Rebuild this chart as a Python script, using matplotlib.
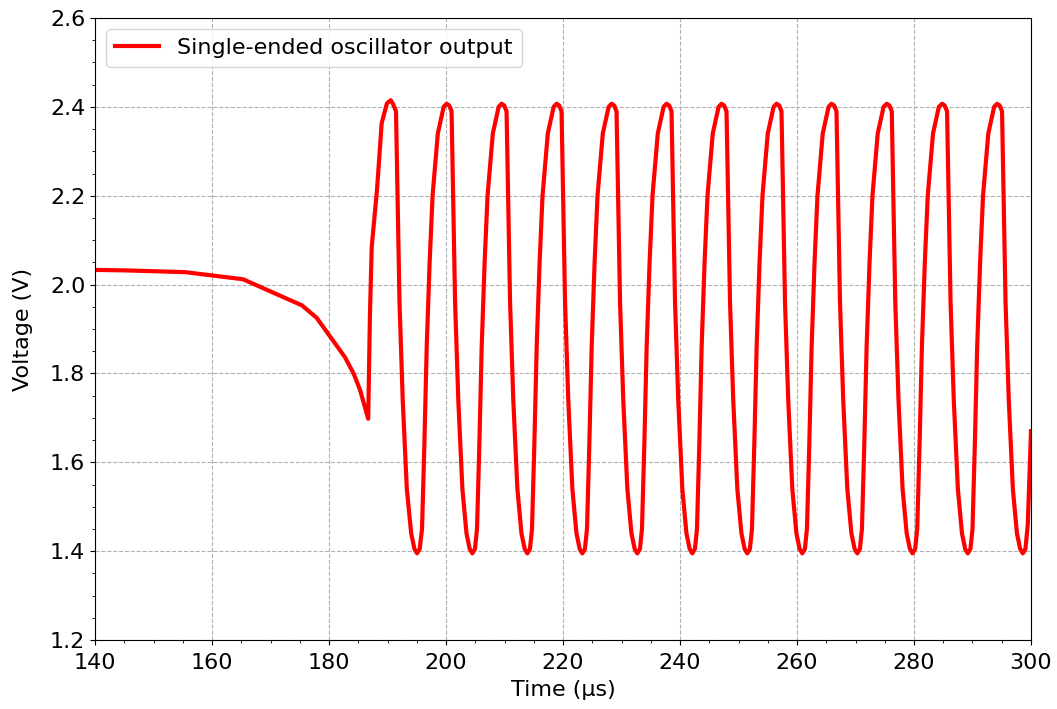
import matplotlib
matplotlib.use("Agg")
import matplotlib.pyplot as plt
from matplotlib.ticker import MultipleLocator

# startup: slow droop before the oscillator kicks in (us, V)
t_start = [140.0, 145.0, 155.4, 165.3, 175.4, 177.9, 182.7, 184.2, 185.3, 186.7,
           187.0, 187.3, 188.2, 189.0, 189.9]
v_start = [2.033, 2.032, 2.028, 2.012, 1.953, 1.925, 1.837, 1.800, 1.763, 1.698,
           1.935, 2.085, 2.213, 2.363, 2.408]

# steady oscillation
t_osc = [
    190.55, 191.0, 191.45, 191.75, 192.05, 192.6, 193.3, 194.05, 194.6, 195.05, 195.5, 195.9, 196.3, 196.7, 197.2, 197.7, 198.6, 199.6,
    200.1, 200.55, 200.95, 201.25, 201.55, 202.1, 202.8, 203.5, 204.05, 204.5, 204.95, 205.3, 205.7, 206.1, 206.6, 207.1, 208.0, 209.0,
    209.5, 209.95, 210.35, 210.65, 210.95, 211.5, 212.2, 212.9, 213.45, 213.9, 214.35, 214.7, 215.1, 215.5, 216.0, 216.5, 217.4, 218.4,
    218.9, 219.35, 219.75, 220.05, 220.35, 220.9, 221.6, 222.3, 222.85, 223.3, 223.75, 224.1, 224.5, 224.9, 225.4, 225.9, 226.8, 227.8,
    228.3, 228.75, 229.15, 229.45, 229.75, 230.3, 231.0, 231.7, 232.25, 232.7, 233.15, 233.5, 233.9, 234.3, 234.8, 235.3, 236.2, 237.2,
    237.7, 238.15, 238.55, 238.85, 239.15, 239.7, 240.4, 241.1, 241.65, 242.1, 242.55, 242.9, 243.3, 243.7, 244.2, 244.7, 245.6, 246.6,
    247.1, 247.55, 247.95, 248.25, 248.55, 249.1, 249.8, 250.5, 251.05, 251.5, 251.95, 252.3, 252.7, 253.1, 253.6, 254.1, 255.0, 256.0,
    256.5, 256.95, 257.35, 257.65, 257.95, 258.5, 259.2, 259.9, 260.45, 260.9, 261.35, 261.7, 262.1, 262.5, 263.0, 263.5, 264.4, 265.4,
    265.9, 266.35, 266.75, 267.05, 267.35, 267.9, 268.6, 269.3, 269.85, 270.3, 270.75, 271.1, 271.5, 271.9, 272.4, 272.9, 273.8, 274.8,
    275.35, 275.8, 276.2, 276.5, 276.8, 277.35, 278.05, 278.75, 279.3, 279.75, 280.2, 280.55, 280.95, 281.35, 281.85, 282.35, 283.25, 284.25,
    284.8, 285.25, 285.65, 285.95, 286.25, 286.8, 287.5, 288.2, 288.75, 289.2, 289.65, 290.0, 290.4, 290.8, 291.3, 291.8, 292.7, 293.7,
    294.2, 294.65, 295.05, 295.35, 295.65, 296.2, 296.9, 297.6, 298.15, 298.6, 299.05, 299.45, 300.0,
]
v_osc = [
    2.415, 2.405, 2.39, 2.17, 1.96, 1.74, 1.54, 1.44, 1.405, 1.395, 1.405, 1.45, 1.64, 1.86, 2.05, 2.20, 2.34, 2.40,
    2.407, 2.403, 2.39, 2.17, 1.96, 1.74, 1.54, 1.44, 1.405, 1.395, 1.405, 1.45, 1.64, 1.86, 2.05, 2.20, 2.34, 2.40,
    2.407, 2.403, 2.39, 2.17, 1.96, 1.74, 1.54, 1.44, 1.405, 1.395, 1.405, 1.45, 1.64, 1.86, 2.05, 2.20, 2.34, 2.40,
    2.407, 2.403, 2.39, 2.17, 1.96, 1.74, 1.54, 1.44, 1.405, 1.395, 1.405, 1.45, 1.64, 1.86, 2.05, 2.20, 2.34, 2.40,
    2.407, 2.403, 2.39, 2.17, 1.96, 1.74, 1.54, 1.44, 1.405, 1.395, 1.405, 1.45, 1.64, 1.86, 2.05, 2.20, 2.34, 2.40,
    2.407, 2.403, 2.39, 2.17, 1.96, 1.74, 1.54, 1.44, 1.405, 1.395, 1.405, 1.45, 1.64, 1.86, 2.05, 2.20, 2.34, 2.40,
    2.407, 2.403, 2.39, 2.17, 1.96, 1.74, 1.54, 1.44, 1.405, 1.395, 1.405, 1.45, 1.64, 1.86, 2.05, 2.20, 2.34, 2.40,
    2.407, 2.403, 2.39, 2.17, 1.96, 1.74, 1.54, 1.44, 1.405, 1.395, 1.405, 1.45, 1.64, 1.86, 2.05, 2.20, 2.34, 2.40,
    2.407, 2.403, 2.39, 2.17, 1.96, 1.74, 1.54, 1.44, 1.405, 1.395, 1.405, 1.45, 1.64, 1.86, 2.05, 2.20, 2.34, 2.40,
    2.407, 2.403, 2.39, 2.17, 1.96, 1.74, 1.54, 1.44, 1.405, 1.395, 1.405, 1.45, 1.64, 1.86, 2.05, 2.20, 2.34, 2.40,
    2.407, 2.403, 2.39, 2.17, 1.96, 1.74, 1.54, 1.44, 1.405, 1.395, 1.405, 1.45, 1.64, 1.86, 2.05, 2.20, 2.34, 2.40,
    2.407, 2.403, 2.39, 2.17, 1.96, 1.74, 1.54, 1.44, 1.405, 1.395, 1.405, 1.46, 1.67,
]

t = t_start + t_osc
v = v_start + v_osc

fig = plt.figure(figsize=(10.57, 7.09), dpi=100)
ax = fig.add_axes([0.0899, 0.0973, 0.8855, 0.8773])

ax.plot(t, v, color="red", linewidth=3.0, label="Single-ended oscillator output")

ax.set_xlim(140, 300)
ax.set_ylim(1.2, 2.6)
ax.xaxis.set_major_locator(MultipleLocator(20))
ax.xaxis.set_minor_locator(MultipleLocator(5))
ax.yaxis.set_major_locator(MultipleLocator(0.2))
ax.yaxis.set_minor_locator(MultipleLocator(0.05))
ax.tick_params(axis="both", which="major", labelsize=16)
ax.tick_params(axis="x", which="major", pad=6)

ax.set_xlabel("Time (µs)", fontsize=16, labelpad=5)
ax.set_ylabel("Voltage (V)", fontsize=16, labelpad=12)

ax.grid(True, which="major", linestyle="--", color="#b0b0b0", linewidth=0.8)
ax.legend(loc="upper left", fontsize=16, handlelength=2.0)

fig.savefig("out.png", dpi=100)
plt.close(fig)
